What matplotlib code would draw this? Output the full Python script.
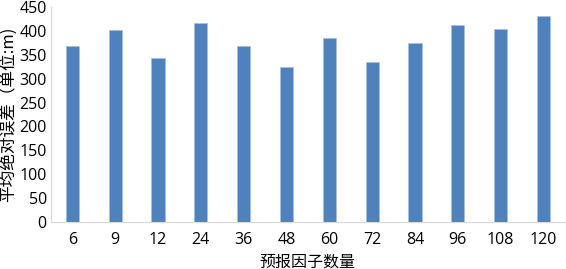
import matplotlib.pyplot as plt

plt.rcParams['font.family'] = ['Open Sans', 'Noto Sans CJK SC', 'DejaVu Sans']

# 数据
factors = ['6', '9', '12', '24', '36', '48', '60', '72', '84', '96', '108', '120']
mae = [368, 402, 344, 416, 368, 324, 386, 334, 374, 412, 404, 431]

fig = plt.figure(figsize=(5.66, 2.69), dpi=100)
ax = fig.add_axes([0.090, 0.175, 0.908, 0.799])

x = range(len(factors))
ax.bar(x, mae, width=0.31, color='#4F81BD', edgecolor='#A7C0E0', linewidth=0.6)

ax.set_xlim(-0.5, len(factors) - 0.5)
ax.set_ylim(0, 450)
ax.set_yticks(range(0, 451, 50))
ax.set_xticks(list(x))
ax.set_xticklabels(factors)
ax.tick_params(axis='both', length=0, labelsize=11.5, colors='black')
ax.tick_params(axis='x', pad=7)
ax.tick_params(axis='y', pad=3)

for s in ['top', 'right']:
    ax.spines[s].set_visible(False)
ax.spines['left'].set_color('#D9D9D9')
ax.spines['bottom'].set_color('#D9D9D9')

ax.set_xlabel('预报因子数量', fontsize=11.5, family=['Noto Sans CJK SC', 'DejaVu Sans'], labelpad=4)
ax.set_ylabel('平均绝对误差（单位:m)', fontsize=12, family=['Noto Sans CJK SC', 'DejaVu Sans'], labelpad=2)

fig.savefig('out.png', dpi=100)
